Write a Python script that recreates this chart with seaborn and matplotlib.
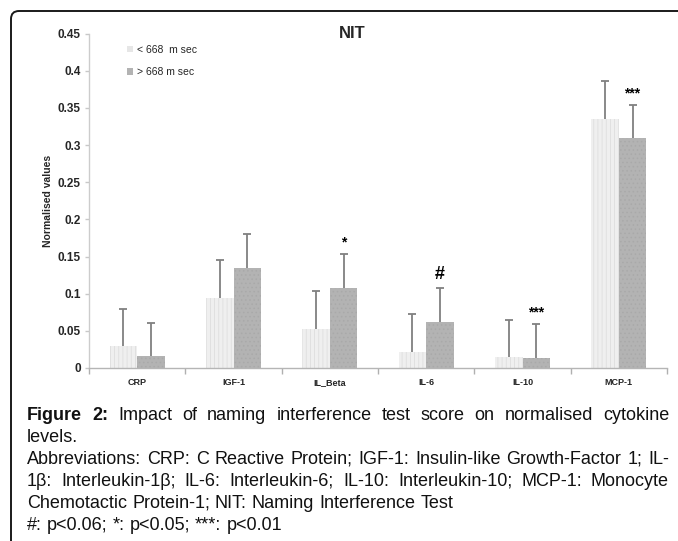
import matplotlib
matplotlib.use("Agg")
import pandas as pd
import matplotlib.pyplot as plt
import seaborn as sns
from matplotlib.patches import FancyBboxPatch, Patch

# =========================
# DATA
# =========================
cytokines = ["CRP", "IGF-1", "IL_Beta", "IL-6", "IL-10", "MCP-1"]
groups = ["< 668  m sec", "> 668 m sec"]
low_vals = [0.030, 0.094, 0.053, 0.022, 0.015, 0.335]
high_vals = [0.016, 0.134, 0.108, 0.062, 0.013, 0.309]
low_err = [0.050, 0.051, 0.050, 0.051, 0.050, 0.051]
high_err = [0.045, 0.046, 0.045, 0.046, 0.046, 0.045]
sig_marks = ["", "", "*", "#", "***", "***"]
yticks = [0, 0.05, 0.1, 0.15, 0.2, 0.25, 0.3, 0.35, 0.4, 0.45]
ytick_labels = ["0", "0.05", "0.1", "0.15", "0.2", "0.25", "0.3", "0.35", "0.4", "0.45"]

caption = [
    ([("Figure", "bold"), ("2:", "bold"), "Impact of naming interference test score on normalised cytokine"], True),
    (["levels."], False),
    (["Abbreviations: CRP: C Reactive Protein; IGF-1: Insulin-like Growth-Factor 1; IL-"], True),
    (["1β: Interleukin-1β; IL-6: Interleukin-6; IL-10: Interleukin-10; MCP-1: Monocyte"], True),
    (["Chemotactic Protein-1; NIT: Naming Interference Test"], False),
    (["#: p<0.06; *: p<0.05; ***: p<0.01"], False),
]

df = pd.DataFrame({
    "cytokine": cytokines * 2,
    "group": [groups[0]] * 6 + [groups[1]] * 6,
    "value": low_vals + high_vals,
})

# =========================
# STYLE
# =========================
sns.set_theme(style="white")
plt.rcParams["font.family"] = ["Liberation Sans", "DejaVu Sans"]
plt.rcParams["hatch.linewidth"] = 0.6

W, H = 678, 541
fig = plt.figure(figsize=(W / 100, H / 100), dpi=100)
ax = fig.add_axes([89 / W, 1 - 368 / H, (667 - 89) / W, (368 - 33.5) / H])

# =========================
# BARS
# =========================
sns.barplot(data=df, x="cytokine", y="value", hue="group", order=cytokines,
            hue_order=groups, palette=["#efefef", "#b3b3b3"], width=0.57,
            gap=0, errorbar=None, legend=False, ax=ax)

styles = [("#dedede", "||||"), ("#a9a9a9", "....")]
for cont, (hc, hatch) in zip(ax.containers, styles):
    for bar in cont:
        bar.set_edgecolor(hc)
        bar.set_hatch(hatch)
        bar.set_linewidth(0)

# error bars (upper only, cap on top) and significance marks
for cont, vals, errs in zip(list(ax.containers), [low_vals, high_vals], [low_err, high_err]):
    xs = [b.get_x() + b.get_width() / 2 for b in cont]
    tops = [v + e for v, e in zip(vals, errs)]
    ax.vlines(xs, vals, tops, color="#808080", lw=1.3, zorder=3)
    ax.plot(xs, tops, ls="none", marker="_", ms=6, mew=1.3, color="#808080", zorder=3)

xs_high = [b.get_x() + b.get_width() / 2 for b in ax.containers[1]]
for x, v, e, m in zip(xs_high, high_vals, high_err, sig_marks):
    if not m:
        continue
    size = 13 if m == "#" else 10
    ax.text(x, v + e + 0.006, m, ha="center", va="bottom", fontsize=size,
            fontweight="bold", color="black")

# =========================
# AXES
# =========================
ax.set_ylim(0, 0.45)
ax.set_xlim(-0.5, 5.5)
ax.set_yticks(yticks)
ax.set_yticklabels(ytick_labels, fontsize=8.5, fontweight="bold")
ax.set_xticks(range(len(cytokines)))
ax.set_xticklabels(cytokines, fontsize=6.5, fontweight="bold")
ax.set_xticks([i - 0.5 for i in range(len(cytokines) + 1)], minor=True)
ax.tick_params(axis="x", which="major", length=0, pad=12)
ax.tick_params(axis="x", which="minor", length=4, color="#b0b0b0", width=1, bottom=True)
ax.tick_params(axis="y", length=3, color="#c8c8c8", width=1, left=True, pad=3)
for lab in ax.get_xticklabels():
    lab.set_verticalalignment("baseline")
ax.set_xlabel("")
ax.set_ylabel("Normalised values", fontsize=7.5, fontweight="bold", labelpad=3)
for s in ["top", "right"]:
    ax.spines[s].set_visible(False)
ax.spines["left"].set_color("#cccccc")
ax.spines["bottom"].set_color("#b5b5b5")
ax.spines["left"].set_linewidth(1)
ax.spines["bottom"].set_linewidth(1)

handles = [Patch(facecolor="#e6e6e6", edgecolor="none"),
           Patch(facecolor="#b3b3b3", edgecolor="none")]
ax.legend(handles, groups, loc="upper left", bbox_to_anchor=(0.05, 0.995),
          frameon=False, fontsize=7.5, handlelength=0.55, handleheight=0.55,
          handletextpad=0.4, labelspacing=1.2)

fig.text(352 / W, 1 - 34 / H, "NIT", ha="center", va="center",
         fontsize=12, fontweight="bold")

# =========================
# FRAME + CAPTION
# =========================
frame = FancyBboxPatch((0.11, -0.5), 7.5, 5.41 - 0.11 + 0.5,
                       boxstyle="round,pad=0,rounding_size=0.08",
                       transform=fig.dpi_scale_trans, facecolor="none",
                       edgecolor="#1a1a1a", linewidth=1.4, clip_on=False)
fig.patches.append(frame)

renderer = fig.canvas.get_renderer()
cap_size = 13
cap_font = ["Liberation Sans", "DejaVu Sans"]
x_left, x_right = 27, 669
y0, dy = 420, 22
for i, (parts, justify) in enumerate(caption):
    words = []
    for p in parts:
        if isinstance(p, tuple):
            words.append(p)
        else:
            words += [(w, "normal") for w in p.split(" ")]
    y = 1 - (y0 + i * dy) / H
    objs = [fig.text(0, y, w, fontsize=cap_size, fontweight=wt, family=cap_font,
                     va="baseline", ha="left", color="#111111") for w, wt in words]
    widths = [o.get_window_extent(renderer).width for o in objs]
    space = 0.278 * cap_size * 100 / 72
    if justify and len(objs) > 1:
        gap = (x_right - x_left - sum(widths)) / (len(objs) - 1)
    else:
        gap = space
    x = x_left
    for o, w in zip(objs, widths):
        o.set_x(x / W)
        x += w + gap

fig.savefig("out.png", dpi=100)
